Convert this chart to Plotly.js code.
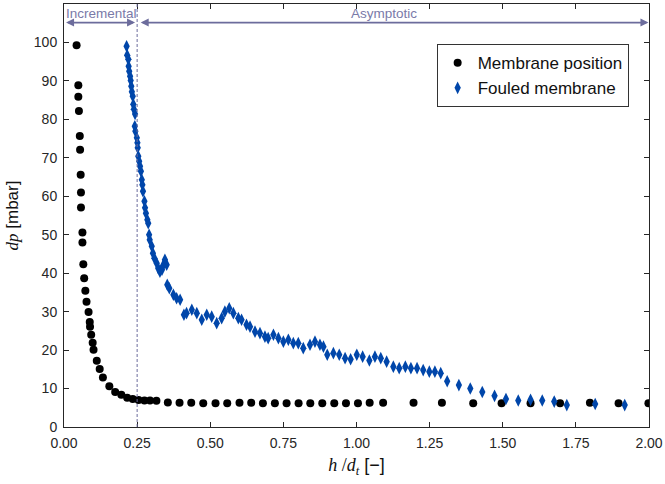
<!DOCTYPE html>
<html>
<head>
<meta charset="utf-8">
<script src="https://cdn.plot.ly/plotly-3.0.1.min.js"></script>
<style>
  html, body { margin: 0; padding: 0; background: #fff; }
  #chart { width: 665px; height: 484px; }
</style>
</head>
<body>
<div id="chart"></div>
<script>
// Membrane position: pressure drop vs. normalised height
const membraneH = [
  0.043, 0.049, 0.049, 0.051, 0.054, 0.055, 0.057, 0.058, 0.058, 0.063,
  0.063, 0.066, 0.069, 0.073, 0.077, 0.084, 0.088, 0.089, 0.093, 0.098,
  0.101, 0.112, 0.122, 0.133, 0.155, 0.175, 0.196, 0.216, 0.235, 0.255,
  0.275, 0.294, 0.316, 0.355, 0.395, 0.435, 0.476, 0.518, 0.558, 0.600,
  0.640, 0.680, 0.721, 0.761, 0.802, 0.842, 0.883, 0.924, 0.964, 1.005,
  1.045, 1.091, 1.195, 1.292, 1.399, 1.496, 1.595, 1.696, 1.798, 1.896,
  1.998
];
const membraneDp = [
  99.3, 88.9, 85.9, 82.2, 75.7, 72.1, 65.6, 61.0, 57.1, 50.6,
  48.0, 42.3, 38.7, 35.4, 32.6, 29.9, 27.3, 26.1, 24.0, 21.9,
  20.1, 17.2, 15.1, 12.9, 10.6, 9.1, 8.4, 7.6, 7.3, 7.0,
  6.9, 6.9, 6.8, 6.4, 6.3, 6.3, 6.2, 6.2, 6.2, 6.3,
  6.3, 6.2, 6.2, 6.2, 6.2, 6.2, 6.2, 6.2, 6.2, 6.2,
  6.3, 6.3, 6.3, 6.3, 6.2, 6.2, 6.2, 6.2, 6.3, 6.2,
  6.2
];

// Fouled membrane
const fouledH = [
  0.214, 0.216, 0.220, 0.221, 0.223, 0.226, 0.228, 0.230, 0.232, 0.235,
  0.237, 0.239, 0.243, 0.242, 0.244, 0.249, 0.251, 0.252, 0.254, 0.257,
  0.260, 0.263, 0.266, 0.268, 0.270, 0.275, 0.277, 0.280, 0.285, 0.288,
  0.291, 0.293, 0.300, 0.304, 0.309, 0.317, 0.322, 0.328, 0.335, 0.338,
  0.345, 0.351, 0.353, 0.360, 0.374, 0.385, 0.397, 0.410, 0.419, 0.437,
  0.454, 0.471, 0.488, 0.505, 0.522, 0.539, 0.550, 0.565, 0.579, 0.596,
  0.607, 0.624, 0.636, 0.653, 0.670, 0.687, 0.698, 0.716, 0.733, 0.750,
  0.767, 0.784, 0.801, 0.818, 0.841, 0.858, 0.875, 0.887, 0.900, 0.921,
  0.941, 0.961, 0.980, 1.001, 1.021, 1.044, 1.063, 1.083, 1.103, 1.126,
  1.146, 1.167, 1.186, 1.207, 1.228, 1.249, 1.268, 1.288, 1.310, 1.350,
  1.389, 1.430, 1.472, 1.511, 1.553, 1.595, 1.635, 1.676, 1.719, 1.816,
  1.917
];
const fouledDp = [
  99.0, 96.7, 95.6, 93.8, 92.5, 91.2, 90.1, 88.6, 87.2, 86.0,
  83.9, 82.6, 81.4, 78.2, 76.9, 75.2, 73.9, 72.6, 70.4, 69.1,
  67.8, 66.5, 64.3, 63.0, 61.3, 58.7, 57.0, 55.6, 53.9, 53.0,
  50.0, 48.7, 47.0, 45.2, 43.9, 42.6, 41.3, 40.4, 40.9, 41.9,
  43.5, 42.2, 37.0, 36.1, 34.4, 33.5, 33.1, 29.2, 29.6, 30.5,
  29.6, 27.9, 29.2, 28.7, 27.0, 28.3, 30.0, 30.9, 29.6, 28.3,
  27.9, 26.6, 26.1, 24.8, 24.4, 23.5, 23.1, 24.0, 23.1, 22.2,
  22.7, 21.8, 21.8, 20.5, 21.4, 22.2, 21.4, 20.9, 18.8, 19.2,
  18.8, 17.9, 17.6, 18.8, 18.3, 17.3, 18.3, 17.9, 17.0, 15.7,
  15.3, 15.7, 15.3, 15.3, 14.8, 14.4, 14.4, 14.0, 11.9, 10.9,
  10.0, 9.1, 8.1, 7.3, 6.9, 7.1, 6.9, 6.6, 5.7, 6.0,
  5.7
];

// Regime boundary and labels
const regimeSplit = 0.25;
const regimeNames = ['Incremental', 'Asymptotic'];

const guide = '#6c6c9c';
const frame = '#262626';

const traces = [
  {
    x: membraneH, y: membraneDp, type: 'scatter', mode: 'markers',
    name: 'Membrane position',
    marker: { symbol: 'circle', size: 8, color: '#000000' }
  },
  {
    x: fouledH, y: fouledDp, type: 'scatter', mode: 'markers',
    name: 'Fouled membrane',
    marker: { symbol: 'diamond-tall', size: 9, color: '#0046aa' }
  }
];

const layout = {
  width: 665, height: 484,
  margin: { l: 64, r: 16, t: 4, b: 57 },
  paper_bgcolor: '#fff', plot_bgcolor: '#fff',
  font: { family: 'Liberation Sans, Arial, sans-serif', size: 14, color: frame },
  showlegend: true,
  legend: {
    x: 0.637, y: 0.905, xanchor: 'left', yanchor: 'top',
    bgcolor: '#fff', bordercolor: '#333', borderwidth: 1,
    font: { size: 17, color: '#111' },
    tracegroupgap: 0
  },
  xaxis: {
    range: [0, 2], dtick: 0.25, tick0: 0, tickformat: '.2f',
    ticks: 'inside', ticklen: 5, tickcolor: frame, ticklabelstandoff: 3,
    showline: true, linecolor: frame, linewidth: 1, mirror: 'ticks',
    showgrid: false, zeroline: false,
    title: {
      text: '<span style="font-family:Liberation Serif"><i>h</i> /<i>d<sub>t</sub></i></span> [−]',
      font: { size: 18, color: '#111' }, standoff: 8
    }
  },
  yaxis: {
    range: [0, 110],
    tickvals: [0,10,20,30,40,50,60,70,80,90,100],
    ticks: 'inside', ticklen: 5, tickcolor: frame, ticklabelstandoff: 3,
    showline: true, linecolor: frame, linewidth: 1, mirror: 'ticks',
    showgrid: false, zeroline: false,
    title: {
      text: '<span style="font-family:Liberation Serif"><i>dp</i></span> [mbar]',
      font: { size: 17, color: '#111' }, standoff: 10
    }
  },
  shapes: [
    {
      type: 'line', xref: 'x', yref: 'paper',
      x0: regimeSplit, x1: regimeSplit, y0: 0, y1: 1,
      line: { color: guide, width: 1, dash: '3px,2px' }
    }
  ],
  annotations: [
    {
      xref: 'x', yref: 'paper', x: 0.0, y: 0.978, xanchor: 'left', yanchor: 'middle',
      text: regimeNames[0], showarrow: false,
      font: { size: 13.5, color: '#7a7aa8' }
    },
    {
      xref: 'x', yref: 'paper', x: 1.095, y: 0.978, xanchor: 'center', yanchor: 'middle',
      text: regimeNames[1], showarrow: false,
      font: { size: 13.5, color: '#7a7aa8' }
    },
    {
      xref: 'x', yref: 'paper', x: 0.243, y: 0.956,
      axref: 'x', ax: 0.002, ayref: 'pixel', ay: 0,
      text: '', showarrow: true, arrowside: 'end+start',
      arrowhead: 2, arrowsize: 1, arrowwidth: 1.6, arrowcolor: guide,
      standoff: 0, startstandoff: 0
    },
    {
      xref: 'x', yref: 'paper', x: 1.998, y: 0.956,
      axref: 'x', ax: 0.257, ayref: 'pixel', ay: 0,
      text: '', showarrow: true, arrowside: 'end+start',
      arrowhead: 2, arrowsize: 1, arrowwidth: 1.6, arrowcolor: guide,
      standoff: 0, startstandoff: 0
    }
  ]
};

Plotly.newPlot('chart', traces, layout, { staticPlot: true, displayModeBar: false });
</script>
</body>
</html>
